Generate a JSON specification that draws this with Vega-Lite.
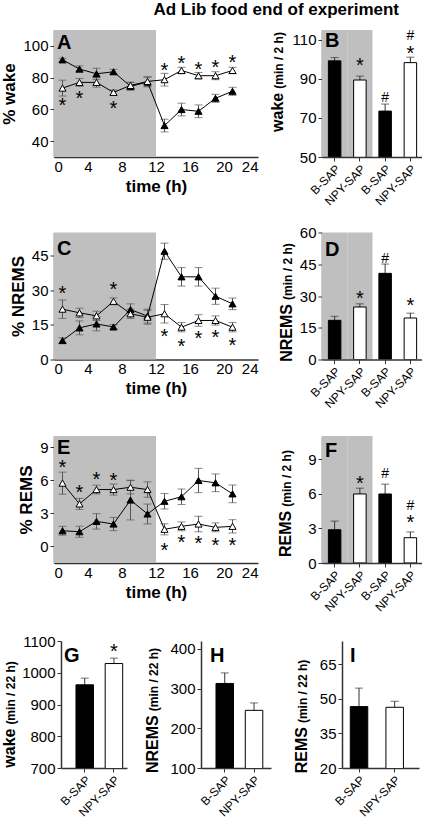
{
"$schema": "https://vega.github.io/schema/vega-lite/v6.json",
"padding": {"left": 0, "top": 0, "right": 0, "bottom": 0},
"title": {"text": "Ad Lib food end of experiment", "anchor": "end", "fontSize": 17, "fontWeight": "bold", "font": "Liberation Sans", "dx": -24, "offset": 10},
"config": {
  "font": "Liberation Sans",
  "view": {"stroke": null},
  "text": {"baseline": "alphabetic"},
  "axis": {"labelFont": "Liberation Sans", "labelFontSize": 15, "labelColor": "#000", "titleFont": "Liberation Sans", "titleFontSize": 17, "titleFontWeight": "bold", "titleColor": "#000", "domainColor": "#333", "domainWidth": 1.5, "tickColor": "#333", "tickSize": 4, "grid": false, "labelPadding": 2, "titlePadding": 4}
},
"datasets": {
  "wake": [
    {"t": 1, "group": "B-SAP", "mean": 91.2, "err": 1},
    {"t": 3, "group": "B-SAP", "mean": 85.4, "err": 2},
    {"t": 5, "group": "B-SAP", "mean": 82.4, "err": 3.5},
    {"t": 7, "group": "B-SAP", "mean": 83.7, "err": 1.5},
    {"t": 9, "group": "B-SAP", "mean": 74.5, "err": 2.5},
    {"t": 11, "group": "B-SAP", "mean": 77.2, "err": 3},
    {"t": 13, "group": "B-SAP", "mean": 49.8, "err": 4},
    {"t": 15, "group": "B-SAP", "mean": 59.9, "err": 4},
    {"t": 17, "group": "B-SAP", "mean": 58.8, "err": 4},
    {"t": 19, "group": "B-SAP", "mean": 67, "err": 2.5},
    {"t": 21, "group": "B-SAP", "mean": 71.4, "err": 2.5},
    {"t": 1, "group": "NPY-SAP", "mean": 73.4, "err": 5},
    {"t": 3, "group": "NPY-SAP", "mean": 77, "err": 2.5},
    {"t": 5, "group": "NPY-SAP", "mean": 77, "err": 3},
    {"t": 7, "group": "NPY-SAP", "mean": 70.7, "err": 1.5},
    {"t": 9, "group": "NPY-SAP", "mean": 75.1, "err": 2},
    {"t": 11, "group": "NPY-SAP", "mean": 77.6, "err": 3},
    {"t": 13, "group": "NPY-SAP", "mean": 78.7, "err": 4},
    {"t": 15, "group": "NPY-SAP", "mean": 84.5, "err": 2},
    {"t": 17, "group": "NPY-SAP", "mean": 81.2, "err": 2},
    {"t": 19, "group": "NPY-SAP", "mean": 81.2, "err": 2.5},
    {"t": 21, "group": "NPY-SAP", "mean": 84.5, "err": 2}
  ],
  "nrems": [
    {"t": 1, "group": "B-SAP", "mean": 8.2, "err": 1.2},
    {"t": 3, "group": "B-SAP", "mean": 13.7, "err": 3},
    {"t": 5, "group": "B-SAP", "mean": 15.4, "err": 3},
    {"t": 7, "group": "B-SAP", "mean": 14.1, "err": 1},
    {"t": 9, "group": "B-SAP", "mean": 21.6, "err": 2.5},
    {"t": 11, "group": "B-SAP", "mean": 18.8, "err": 3},
    {"t": 13, "group": "B-SAP", "mean": 46.9, "err": 3.5},
    {"t": 15, "group": "B-SAP", "mean": 35.8, "err": 4},
    {"t": 17, "group": "B-SAP", "mean": 35.8, "err": 4},
    {"t": 19, "group": "B-SAP", "mean": 27.4, "err": 3.5},
    {"t": 21, "group": "B-SAP", "mean": 24.1, "err": 2.5},
    {"t": 1, "group": "NPY-SAP", "mean": 21.8, "err": 4},
    {"t": 3, "group": "NPY-SAP", "mean": 20.2, "err": 2},
    {"t": 5, "group": "NPY-SAP", "mean": 18.9, "err": 2},
    {"t": 7, "group": "NPY-SAP", "mean": 25.2, "err": 1.5},
    {"t": 9, "group": "NPY-SAP", "mean": 19.8, "err": 2},
    {"t": 11, "group": "NPY-SAP", "mean": 18.3, "err": 3},
    {"t": 13, "group": "NPY-SAP", "mean": 19.8, "err": 4},
    {"t": 15, "group": "NPY-SAP", "mean": 14, "err": 2},
    {"t": 17, "group": "NPY-SAP", "mean": 16.9, "err": 2.5},
    {"t": 19, "group": "NPY-SAP", "mean": 16.9, "err": 2},
    {"t": 21, "group": "NPY-SAP", "mean": 14, "err": 2}
  ],
  "rems": [
    {"t": 1, "group": "B-SAP", "mean": 1.42, "err": 0.4},
    {"t": 3, "group": "B-SAP", "mean": 1.33, "err": 0.5},
    {"t": 5, "group": "B-SAP", "mean": 2.27, "err": 0.7},
    {"t": 7, "group": "B-SAP", "mean": 2.03, "err": 0.6},
    {"t": 9, "group": "B-SAP", "mean": 4.2, "err": 1.8},
    {"t": 11, "group": "B-SAP", "mean": 2.94, "err": 0.9},
    {"t": 13, "group": "B-SAP", "mean": 4.09, "err": 0.7},
    {"t": 15, "group": "B-SAP", "mean": 4.5, "err": 0.7},
    {"t": 17, "group": "B-SAP", "mean": 5.97, "err": 1.1},
    {"t": 19, "group": "B-SAP", "mean": 5.76, "err": 0.8},
    {"t": 21, "group": "B-SAP", "mean": 4.76, "err": 0.8},
    {"t": 1, "group": "NPY-SAP", "mean": 5.73, "err": 1},
    {"t": 3, "group": "NPY-SAP", "mean": 3.85, "err": 0.5},
    {"t": 5, "group": "NPY-SAP", "mean": 5.15, "err": 0.4},
    {"t": 7, "group": "NPY-SAP", "mean": 5.15, "err": 0.5},
    {"t": 9, "group": "NPY-SAP", "mean": 5.36, "err": 0.6},
    {"t": 11, "group": "NPY-SAP", "mean": 5.15, "err": 0.7},
    {"t": 13, "group": "NPY-SAP", "mean": 1.55, "err": 0.5},
    {"t": 15, "group": "NPY-SAP", "mean": 1.82, "err": 0.4},
    {"t": 17, "group": "NPY-SAP", "mean": 2.03, "err": 0.7},
    {"t": 19, "group": "NPY-SAP", "mean": 1.73, "err": 0.4},
    {"t": 21, "group": "NPY-SAP", "mean": 1.82, "err": 0.6}
  ],
  "wakeStars": [
    {"t": 1, "v": 64, "sym": "*"}, {"t": 3, "v": 68.2, "sym": "*"}, {"t": 7, "v": 62.4, "sym": "*"},
    {"t": 13, "v": 86, "sym": "*"}, {"t": 15, "v": 90.2, "sym": "*"}, {"t": 17, "v": 86.4, "sym": "*"},
    {"t": 19, "v": 88.1, "sym": "*"}, {"t": 21, "v": 90.8, "sym": "*"}
  ],
  "nremsStars": [
    {"t": 1, "v": 29.6, "sym": "*"}, {"t": 7, "v": 31.3, "sym": "*"}, {"t": 13, "v": 11.1, "sym": "*"},
    {"t": 15, "v": 6.8, "sym": "*"}, {"t": 17, "v": 10.1, "sym": "*"}, {"t": 19, "v": 10.5, "sym": "*"},
    {"t": 21, "v": 7.2, "sym": "*"}
  ],
  "remsStars": [
    {"t": 1, "v": 7.35, "sym": "*"}, {"t": 3, "v": 5.1, "sym": "*"}, {"t": 5, "v": 6.33, "sym": "*"},
    {"t": 7, "v": 6.2, "sym": "*"}, {"t": 13, "v": -0.1, "sym": "*"}, {"t": 15, "v": 0.58, "sym": "*"},
    {"t": 17, "v": 0.45, "sym": "*"}, {"t": 19, "v": 0.27, "sym": "*"}, {"t": 21, "v": 0.27, "sym": "*"}
  ],
  "wakeBar": [
    {"slot": "light B-SAP", "group": "B-SAP", "mean": 99.2, "err": 1.7},
    {"slot": "light NPY-SAP", "group": "NPY-SAP", "mean": 89.4, "err": 2},
    {"slot": "dark B-SAP", "group": "B-SAP", "mean": 73.5, "err": 3.6},
    {"slot": "dark NPY-SAP", "group": "NPY-SAP", "mean": 98.3, "err": 2.8}
  ],
  "wakeBarAnn": [
    {"slot": "light NPY-SAP", "v": 98, "sym": "*"},
    {"slot": "dark B-SAP", "v": 80.9, "sym": "#"},
    {"slot": "dark NPY-SAP", "v": 112.6, "sym": "#"},
    {"slot": "dark NPY-SAP", "v": 104, "sym": "*"}
  ],
  "nremsBar": [
    {"slot": "light B-SAP", "group": "B-SAP", "mean": 18.5, "err": 1.9},
    {"slot": "light NPY-SAP", "group": "NPY-SAP", "mean": 24.8, "err": 1.5},
    {"slot": "dark B-SAP", "group": "B-SAP", "mean": 40.7, "err": 4.4},
    {"slot": "dark NPY-SAP", "group": "NPY-SAP", "mean": 19.6, "err": 2.3}
  ],
  "nremsBarAnn": [
    {"slot": "light NPY-SAP", "v": 29.8, "sym": "*"},
    {"slot": "dark B-SAP", "v": 47.8, "sym": "#"},
    {"slot": "dark NPY-SAP", "v": 26.6, "sym": "*"}
  ],
  "remsBar": [
    {"slot": "light B-SAP", "group": "B-SAP", "mean": 2.88, "err": 0.75},
    {"slot": "light NPY-SAP", "group": "NPY-SAP", "mean": 5.98, "err": 0.5},
    {"slot": "dark B-SAP", "group": "B-SAP", "mean": 5.98, "err": 0.85},
    {"slot": "dark NPY-SAP", "group": "NPY-SAP", "mean": 2.19, "err": 0.5}
  ],
  "remsBarAnn": [
    {"slot": "light NPY-SAP", "v": 7.07, "sym": "*"},
    {"slot": "dark B-SAP", "v": 7.76, "sym": "#"},
    {"slot": "dark NPY-SAP", "v": 5.0, "sym": "#"},
    {"slot": "dark NPY-SAP", "v": 3.75, "sym": "*"}
  ],
  "wake22": [
    {"group": "B-SAP", "mean": 962, "err": 21},
    {"group": "NPY-SAP", "mean": 1029, "err": 17}
  ],
  "wake22Ann": [{"group": "NPY-SAP", "v": 1075, "sym": "*"}],
  "nrems22": [
    {"group": "B-SAP", "mean": 313, "err": 26.6},
    {"group": "NPY-SAP", "mean": 245.3, "err": 18.7}
  ],
  "rems22": [
    {"group": "B-SAP", "mean": 46.6, "err": 8},
    {"group": "NPY-SAP", "mean": 46.3, "err": 2.6}
  ]
},
"spacing": 17.5,
"vconcat": [
 {"spacing": 64, "bounds": "flush", "hconcat": [
  {"width": 204, "height": 127, "resolve": {"axis": {"x": "independent", "y": "independent"}}, "layer": [
    {"data": {"values": [{"start": 0, "end": 12}]}, "mark": {"type": "rect", "color": "#bfbfbf"},
     "encoding": {"x": {"field": "start", "type": "quantitative", "scale": {"domain": [0, 24], "nice": false}, "axis": {"values": [0, 4, 8, 12, 16, 20, 24], "title": "time (h)", "ticks": false, "labelPadding": 2}}, "x2": {"field": "end"}}},
    {"data": {"name": "wake"}, "mark": {"type": "errorbar", "ticks": {"size": 8}, "color": "#555"},
     "encoding": {"x": {"field": "t", "type": "quantitative", "scale": {"domain": [0, 24], "nice": false}, "axis": null},
       "y": {"field": "mean", "type": "quantitative", "scale": {"domain": [30, 110], "nice": false, "zero": false}, "axis": null},
       "yError": {"field": "err"}}},
    {"data": {"name": "wake"}, "mark": {"type": "line", "color": "black", "strokeWidth": 1},
     "encoding": {"x": {"field": "t", "type": "quantitative", "scale": {"domain": [0, 24], "nice": false}, "axis": null},
       "y": {"field": "mean", "type": "quantitative", "scale": {"domain": [30, 110], "nice": false, "zero": false}, "axis": {"values": [40, 60, 80, 100], "title": "% wake"}},
       "detail": {"field": "group", "type": "nominal"}}},
    {"data": {"name": "wake"}, "mark": {"type": "point", "shape": "triangle-up", "filled": true, "size": 50, "stroke": "black", "strokeWidth": 1, "opacity": 1},
     "encoding": {"x": {"field": "t", "type": "quantitative", "scale": {"domain": [0, 24], "nice": false}, "axis": null},
       "y": {"field": "mean", "type": "quantitative", "scale": {"domain": [30, 110], "nice": false, "zero": false}, "axis": null},
       "fill": {"field": "group", "type": "nominal", "scale": {"domain": ["B-SAP", "NPY-SAP"], "range": ["black", "white"]}, "legend": null}}},
    {"data": {"name": "wakeStars"}, "mark": {"type": "text", "fontSize": 20, "dy": 9, "baseline": "alphabetic"},
     "encoding": {"x": {"field": "t", "type": "quantitative", "scale": {"domain": [0, 24], "nice": false}, "axis": null},
       "y": {"field": "v", "type": "quantitative", "scale": {"domain": [30, 110], "nice": false, "zero": false}, "axis": null},
       "text": {"field": "sym"}}},
    {"data": {"values": [{"panel": "A"}]}, "mark": {"type": "text", "fontSize": 20, "fontWeight": "bold", "align": "left", "baseline": "alphabetic"},
     "encoding": {"x": {"datum": 0.35, "type": "quantitative", "scale": {"domain": [0, 24], "nice": false}, "axis": null},
       "y": {"datum": 98.1, "type": "quantitative", "scale": {"domain": [30, 110], "nice": false, "zero": false}, "axis": null},
       "text": {"field": "panel"}}}
  ]},
  {"width": 101, "height": 127, "resolve": {"axis": {"x": "independent", "y": "independent"}}, "layer": [
    {"data": {"values": [{"slot": "light B-SAP"}, {"slot": "light NPY-SAP"}]}, "mark": {"type": "rect", "color": "#bfbfbf"},
     "encoding": {"x": {"field": "slot", "type": "nominal", "scale": {"domain": ["light B-SAP", "light NPY-SAP", "dark B-SAP", "dark NPY-SAP"], "paddingInner": 0, "paddingOuter": 0}, "axis": {"title": null, "labelExpr": "split(datum.label, ' ')[1]", "labelAngle": -45, "labelFontSize": 12}}}},
    {"data": {"name": "wakeBar"}, "mark": {"type": "errorbar", "ticks": {"size": 8}, "color": "#333"},
     "encoding": {"x": {"field": "slot", "type": "nominal", "scale": {"domain": ["light B-SAP", "light NPY-SAP", "dark B-SAP", "dark NPY-SAP"], "paddingInner": 0, "paddingOuter": 0}, "axis": null},
       "y": {"field": "mean", "type": "quantitative", "scale": {"domain": [50, 115], "nice": false, "zero": false}, "axis": null},
       "yError": {"field": "err"}}},
    {"data": {"name": "wakeBar"}, "mark": {"type": "bar", "width": 12.5, "stroke": "black", "strokeWidth": 1, "clip": true},
     "encoding": {"x": {"field": "slot", "type": "nominal", "scale": {"domain": ["light B-SAP", "light NPY-SAP", "dark B-SAP", "dark NPY-SAP"], "paddingInner": 0, "paddingOuter": 0}, "axis": null},
       "y": {"field": "mean", "type": "quantitative", "scale": {"domain": [50, 115], "nice": false, "zero": false}, "axis": {"orient": "left", "values": [50, 70, 90, 110], "title": "wake", "titleFontSize": 16, "titleX": -37, "titleY": 81.85}},
       "fill": {"field": "group", "type": "nominal", "scale": {"domain": ["B-SAP", "NPY-SAP"], "range": ["black", "white"]}, "legend": null}}},
    {"data": {"name": "wakeBarAnn"}, "transform": [{"filter": "datum.sym == '*'"}], "mark": {"type": "text", "fontSize": 20, "dy": 9, "baseline": "alphabetic"},
     "encoding": {"x": {"field": "slot", "type": "nominal", "scale": {"domain": ["light B-SAP", "light NPY-SAP", "dark B-SAP", "dark NPY-SAP"], "paddingInner": 0, "paddingOuter": 0}, "axis": null},
       "y": {"field": "v", "type": "quantitative", "scale": {"domain": [50, 115], "nice": false, "zero": false}, "axis": null},
       "text": {"field": "sym"}}},
    {"data": {"name": "wakeBarAnn"}, "transform": [{"filter": "datum.sym == '#'"}], "mark": {"type": "text", "fontSize": 14, "dy": 5, "baseline": "alphabetic"},
     "encoding": {"x": {"field": "slot", "type": "nominal", "scale": {"domain": ["light B-SAP", "light NPY-SAP", "dark B-SAP", "dark NPY-SAP"], "paddingInner": 0, "paddingOuter": 0}, "axis": null},
       "y": {"field": "v", "type": "quantitative", "scale": {"domain": [50, 115], "nice": false, "zero": false}, "axis": null},
       "text": {"field": "sym"}}},
    {"data": {"values": [{"panel": "B"}]}, "mark": {"type": "text", "fontSize": 20, "fontWeight": "bold", "align": "left", "dx": 3, "baseline": "alphabetic"},
     "encoding": {"x": {"datum": "light B-SAP", "type": "nominal", "bandPosition": 0, "scale": {"domain": ["light B-SAP", "light NPY-SAP", "dark B-SAP", "dark NPY-SAP"], "paddingInner": 0, "paddingOuter": 0}, "axis": null},
       "y": {"datum": 106.3, "type": "quantitative", "scale": {"domain": [50, 115], "nice": false, "zero": false}, "axis": {"orient": "left", "title": "(min / 2 h)", "titleFontSize": 12, "titleX": -37, "titleY": 29.95, "labels": false, "ticks": false, "domain": false}},
       "text": {"field": "panel"}}}
  ]}
 ]},
 {"spacing": 25.5, "vconcat": [
  {"spacing": 64, "bounds": "flush", "hconcat": [
   {"width": 204, "height": 127, "resolve": {"axis": {"x": "independent", "y": "independent"}}, "layer": [
    {"data": {"values": [{"start": 0, "end": 12}]}, "mark": {"type": "rect", "color": "#bfbfbf"},
     "encoding": {"x": {"field": "start", "type": "quantitative", "scale": {"domain": [0, 24], "nice": false}, "axis": {"values": [0, 4, 8, 12, 16, 20, 24], "title": "time (h)", "ticks": false, "labelPadding": 2}}, "x2": {"field": "end"}}},
    {"data": {"name": "nrems"}, "mark": {"type": "errorbar", "ticks": {"size": 8}, "color": "#555"},
     "encoding": {"x": {"field": "t", "type": "quantitative", "scale": {"domain": [0, 24], "nice": false}, "axis": null},
       "y": {"field": "mean", "type": "quantitative", "scale": {"domain": [0, 55], "nice": false, "zero": false}, "axis": null},
       "yError": {"field": "err"}}},
    {"data": {"name": "nrems"}, "mark": {"type": "line", "color": "black", "strokeWidth": 1},
     "encoding": {"x": {"field": "t", "type": "quantitative", "scale": {"domain": [0, 24], "nice": false}, "axis": null},
       "y": {"field": "mean", "type": "quantitative", "scale": {"domain": [0, 55], "nice": false, "zero": false}, "axis": {"values": [0, 15, 30, 45], "title": "% NREMS"}},
       "detail": {"field": "group", "type": "nominal"}}},
    {"data": {"name": "nrems"}, "mark": {"type": "point", "shape": "triangle-up", "filled": true, "size": 50, "stroke": "black", "strokeWidth": 1, "opacity": 1},
     "encoding": {"x": {"field": "t", "type": "quantitative", "scale": {"domain": [0, 24], "nice": false}, "axis": null},
       "y": {"field": "mean", "type": "quantitative", "scale": {"domain": [0, 55], "nice": false, "zero": false}, "axis": null},
       "fill": {"field": "group", "type": "nominal", "scale": {"domain": ["B-SAP", "NPY-SAP"], "range": ["black", "white"]}, "legend": null}}},
    {"data": {"name": "nremsStars"}, "mark": {"type": "text", "fontSize": 20, "dy": 9, "baseline": "alphabetic"},
     "encoding": {"x": {"field": "t", "type": "quantitative", "scale": {"domain": [0, 24], "nice": false}, "axis": null},
       "y": {"field": "v", "type": "quantitative", "scale": {"domain": [0, 55], "nice": false, "zero": false}, "axis": null},
       "text": {"field": "sym"}}},
    {"data": {"values": [{"panel": "C"}]}, "mark": {"type": "text", "fontSize": 20, "fontWeight": "bold", "align": "left", "baseline": "alphabetic"},
     "encoding": {"x": {"datum": 0.35, "type": "quantitative", "scale": {"domain": [0, 24], "nice": false}, "axis": null},
       "y": {"datum": 45.3, "type": "quantitative", "scale": {"domain": [0, 55], "nice": false, "zero": false}, "axis": null},
       "text": {"field": "panel"}}}
   ]},
   {"width": 101, "height": 127, "resolve": {"axis": {"x": "independent", "y": "independent"}}, "layer": [
    {"data": {"values": [{"slot": "light B-SAP"}, {"slot": "light NPY-SAP"}]}, "mark": {"type": "rect", "color": "#bfbfbf"},
     "encoding": {"x": {"field": "slot", "type": "nominal", "scale": {"domain": ["light B-SAP", "light NPY-SAP", "dark B-SAP", "dark NPY-SAP"], "paddingInner": 0, "paddingOuter": 0}, "axis": {"title": null, "labelExpr": "split(datum.label, ' ')[1]", "labelAngle": -45, "labelFontSize": 12}}}},
    {"data": {"name": "nremsBar"}, "mark": {"type": "errorbar", "ticks": {"size": 8}, "color": "#333"},
     "encoding": {"x": {"field": "slot", "type": "nominal", "scale": {"domain": ["light B-SAP", "light NPY-SAP", "dark B-SAP", "dark NPY-SAP"], "paddingInner": 0, "paddingOuter": 0}, "axis": null},
       "y": {"field": "mean", "type": "quantitative", "scale": {"domain": [0, 60], "nice": false, "zero": false}, "axis": null},
       "yError": {"field": "err"}}},
    {"data": {"name": "nremsBar"}, "mark": {"type": "bar", "width": 12.5, "stroke": "black", "strokeWidth": 1, "clip": true},
     "encoding": {"x": {"field": "slot", "type": "nominal", "scale": {"domain": ["light B-SAP", "light NPY-SAP", "dark B-SAP", "dark NPY-SAP"], "paddingInner": 0, "paddingOuter": 0}, "axis": null},
       "y": {"field": "mean", "type": "quantitative", "scale": {"domain": [0, 60], "nice": false, "zero": false}, "axis": {"orient": "left", "values": [0, 15, 30, 45, 60], "title": "NREMS", "titleFontSize": 16, "titleX": -28, "titleY": 99.85}},
       "fill": {"field": "group", "type": "nominal", "scale": {"domain": ["B-SAP", "NPY-SAP"], "range": ["black", "white"]}, "legend": null}}},
    {"data": {"name": "nremsBarAnn"}, "transform": [{"filter": "datum.sym == '*'"}], "mark": {"type": "text", "fontSize": 20, "dy": 9, "baseline": "alphabetic"},
     "encoding": {"x": {"field": "slot", "type": "nominal", "scale": {"domain": ["light B-SAP", "light NPY-SAP", "dark B-SAP", "dark NPY-SAP"], "paddingInner": 0, "paddingOuter": 0}, "axis": null},
       "y": {"field": "v", "type": "quantitative", "scale": {"domain": [0, 60], "nice": false, "zero": false}, "axis": null},
       "text": {"field": "sym"}}},
    {"data": {"name": "nremsBarAnn"}, "transform": [{"filter": "datum.sym == '#'"}], "mark": {"type": "text", "fontSize": 14, "dy": 5, "baseline": "alphabetic"},
     "encoding": {"x": {"field": "slot", "type": "nominal", "scale": {"domain": ["light B-SAP", "light NPY-SAP", "dark B-SAP", "dark NPY-SAP"], "paddingInner": 0, "paddingOuter": 0}, "axis": null},
       "y": {"field": "v", "type": "quantitative", "scale": {"domain": [0, 60], "nice": false, "zero": false}, "axis": null},
       "text": {"field": "sym"}}},
    {"data": {"values": [{"panel": "D"}]}, "mark": {"type": "text", "fontSize": 20, "fontWeight": "bold", "align": "left", "dx": 3, "baseline": "alphabetic"},
     "encoding": {"x": {"datum": "light B-SAP", "type": "nominal", "bandPosition": 0, "scale": {"domain": ["light B-SAP", "light NPY-SAP", "dark B-SAP", "dark NPY-SAP"], "paddingInner": 0, "paddingOuter": 0}, "axis": null},
       "y": {"datum": 49, "type": "quantitative", "scale": {"domain": [0, 60], "nice": false, "zero": false}, "axis": {"orient": "left", "title": "(min / 2 h)", "titleFontSize": 12, "titleX": -28, "titleY": 38.6, "labels": false, "ticks": false, "domain": false}},
       "text": {"field": "panel"}}}
   ]}
  ]},
  {"spacing": 18, "vconcat": [
   {"spacing": 64, "bounds": "flush", "hconcat": [
    {"width": 204, "height": 127, "resolve": {"axis": {"x": "independent", "y": "independent"}}, "layer": [
     {"data": {"values": [{"start": 0, "end": 12}]}, "mark": {"type": "rect", "color": "#bfbfbf"},
      "encoding": {"x": {"field": "start", "type": "quantitative", "scale": {"domain": [0, 24], "nice": false}, "axis": {"values": [0, 4, 8, 12, 16, 20, 24], "title": "time (h)", "ticks": false, "labelPadding": 2}}, "x2": {"field": "end"}}},
     {"data": {"name": "rems"}, "mark": {"type": "errorbar", "ticks": {"size": 8}, "color": "#555"},
      "encoding": {"x": {"field": "t", "type": "quantitative", "scale": {"domain": [0, 24], "nice": false}, "axis": null},
        "y": {"field": "mean", "type": "quantitative", "scale": {"domain": [-1.5, 10], "nice": false, "zero": false}, "axis": null},
        "yError": {"field": "err"}}},
     {"data": {"name": "rems"}, "mark": {"type": "line", "color": "black", "strokeWidth": 1},
      "encoding": {"x": {"field": "t", "type": "quantitative", "scale": {"domain": [0, 24], "nice": false}, "axis": null},
        "y": {"field": "mean", "type": "quantitative", "scale": {"domain": [-1.5, 10], "nice": false, "zero": false}, "axis": {"values": [0, 3, 6, 9], "title": "% REMS"}},
        "detail": {"field": "group", "type": "nominal"}}},
     {"data": {"name": "rems"}, "mark": {"type": "point", "shape": "triangle-up", "filled": true, "size": 50, "stroke": "black", "strokeWidth": 1, "opacity": 1},
      "encoding": {"x": {"field": "t", "type": "quantitative", "scale": {"domain": [0, 24], "nice": false}, "axis": null},
        "y": {"field": "mean", "type": "quantitative", "scale": {"domain": [-1.5, 10], "nice": false, "zero": false}, "axis": null},
        "fill": {"field": "group", "type": "nominal", "scale": {"domain": ["B-SAP", "NPY-SAP"], "range": ["black", "white"]}, "legend": null}}},
     {"data": {"name": "remsStars"}, "mark": {"type": "text", "fontSize": 20, "dy": 9, "baseline": "alphabetic"},
      "encoding": {"x": {"field": "t", "type": "quantitative", "scale": {"domain": [0, 24], "nice": false}, "axis": null},
        "y": {"field": "v", "type": "quantitative", "scale": {"domain": [-1.5, 10], "nice": false, "zero": false}, "axis": null},
        "text": {"field": "sym"}}},
     {"data": {"values": [{"panel": "E"}]}, "mark": {"type": "text", "fontSize": 20, "fontWeight": "bold", "align": "left", "baseline": "alphabetic"},
      "encoding": {"x": {"datum": 0.35, "type": "quantitative", "scale": {"domain": [0, 24], "nice": false}, "axis": null},
        "y": {"datum": 8.35, "type": "quantitative", "scale": {"domain": [-1.5, 10], "nice": false, "zero": false}, "axis": null},
        "text": {"field": "panel"}}}
    ]},
    {"width": 101, "height": 127, "resolve": {"axis": {"x": "independent", "y": "independent"}}, "layer": [
     {"data": {"values": [{"slot": "light B-SAP"}, {"slot": "light NPY-SAP"}]}, "mark": {"type": "rect", "color": "#bfbfbf"},
      "encoding": {"x": {"field": "slot", "type": "nominal", "scale": {"domain": ["light B-SAP", "light NPY-SAP", "dark B-SAP", "dark NPY-SAP"], "paddingInner": 0, "paddingOuter": 0}, "axis": {"title": null, "labelExpr": "split(datum.label, ' ')[1]", "labelAngle": -45, "labelFontSize": 12}}}},
     {"data": {"name": "remsBar"}, "mark": {"type": "errorbar", "ticks": {"size": 8}, "color": "#333"},
      "encoding": {"x": {"field": "slot", "type": "nominal", "scale": {"domain": ["light B-SAP", "light NPY-SAP", "dark B-SAP", "dark NPY-SAP"], "paddingInner": 0, "paddingOuter": 0}, "axis": null},
        "y": {"field": "mean", "type": "quantitative", "scale": {"domain": [0, 11], "nice": false, "zero": false}, "axis": null},
        "yError": {"field": "err"}}},
     {"data": {"name": "remsBar"}, "mark": {"type": "bar", "width": 12.5, "stroke": "black", "strokeWidth": 1, "clip": true},
      "encoding": {"x": {"field": "slot", "type": "nominal", "scale": {"domain": ["light B-SAP", "light NPY-SAP", "dark B-SAP", "dark NPY-SAP"], "paddingInner": 0, "paddingOuter": 0}, "axis": null},
        "y": {"field": "mean", "type": "quantitative", "scale": {"domain": [0, 11], "nice": false, "zero": false}, "axis": {"orient": "left", "values": [0, 3, 6, 9], "title": "REMS", "titleFontSize": 16, "titleX": -29, "titleY": 97.35}},
        "fill": {"field": "group", "type": "nominal", "scale": {"domain": ["B-SAP", "NPY-SAP"], "range": ["black", "white"]}, "legend": null}}},
     {"data": {"name": "remsBarAnn"}, "transform": [{"filter": "datum.sym == '*'"}], "mark": {"type": "text", "fontSize": 20, "dy": 9, "baseline": "alphabetic"},
      "encoding": {"x": {"field": "slot", "type": "nominal", "scale": {"domain": ["light B-SAP", "light NPY-SAP", "dark B-SAP", "dark NPY-SAP"], "paddingInner": 0, "paddingOuter": 0}, "axis": null},
        "y": {"field": "v", "type": "quantitative", "scale": {"domain": [0, 11], "nice": false, "zero": false}, "axis": null},
        "text": {"field": "sym"}}},
     {"data": {"name": "remsBarAnn"}, "transform": [{"filter": "datum.sym == '#'"}], "mark": {"type": "text", "fontSize": 14, "dy": 5, "baseline": "alphabetic"},
      "encoding": {"x": {"field": "slot", "type": "nominal", "scale": {"domain": ["light B-SAP", "light NPY-SAP", "dark B-SAP", "dark NPY-SAP"], "paddingInner": 0, "paddingOuter": 0}, "axis": null},
        "y": {"field": "v", "type": "quantitative", "scale": {"domain": [0, 11], "nice": false, "zero": false}, "axis": null},
        "text": {"field": "sym"}}},
     {"data": {"values": [{"panel": "F"}]}, "mark": {"type": "text", "fontSize": 20, "fontWeight": "bold", "align": "left", "dx": 3, "baseline": "alphabetic"},
      "encoding": {"x": {"datum": "light B-SAP", "type": "nominal", "bandPosition": 0, "scale": {"domain": ["light B-SAP", "light NPY-SAP", "dark B-SAP", "dark NPY-SAP"], "paddingInner": 0, "paddingOuter": 0}, "axis": null},
        "y": {"datum": 9.2, "type": "quantitative", "scale": {"domain": [0, 11], "nice": false, "zero": false}, "axis": {"orient": "left", "title": "(min / 2 h)", "titleFontSize": 12, "titleX": -29, "titleY": 41.9, "labels": false, "ticks": false, "domain": false}},
        "text": {"field": "panel"}}}
    ]}
   ]},
   {"spacing": 6, "bounds": "flush", "hconcat": [
    {"width": 1, "height": 1, "data": {"values": [{"s": ""}]}, "mark": "text", "encoding": {"text": {"field": "s"}}},
    {"spacing": 74, "bounds": "flush", "hconcat": [
     {"width": 66, "height": 127, "resolve": {"axis": {"x": "independent", "y": "independent"}}, "layer": [
      {"data": {"name": "wake22"}, "mark": {"type": "errorbar", "ticks": {"size": 8}, "color": "#333"},
       "encoding": {"x": {"field": "group", "type": "nominal", "scale": {"domain": ["B-SAP", "NPY-SAP"], "paddingInner": 0.5, "paddingOuter": 0.38, "align": 0.74}, "axis": null},
         "y": {"field": "mean", "type": "quantitative", "scale": {"domain": [700, 1100], "nice": false, "zero": false}, "axis": null},
         "yError": {"field": "err"}}},
      {"data": {"name": "wake22"}, "mark": {"type": "bar", "width": 17.5, "stroke": "black", "strokeWidth": 1, "clip": true},
       "encoding": {"x": {"field": "group", "type": "nominal", "scale": {"domain": ["B-SAP", "NPY-SAP"], "paddingInner": 0.5, "paddingOuter": 0.38, "align": 0.74}, "axis": {"title": null, "labelAngle": -45, "labelFontSize": 12}},
         "y": {"field": "mean", "type": "quantitative", "scale": {"domain": [700, 1100], "nice": false, "zero": false}, "axis": {"orient": "left", "values": [700, 800, 900, 1000, 1100], "format": "d", "title": "wake", "titleFontSize": 16, "titleX": -44, "titleY": 106.65}},
         "fill": {"field": "group", "type": "nominal", "scale": {"domain": ["B-SAP", "NPY-SAP"], "range": ["black", "white"]}, "legend": null}}},
      {"data": {"name": "wake22Ann"}, "mark": {"type": "text", "fontSize": 20, "dy": 9, "baseline": "alphabetic"},
       "encoding": {"x": {"field": "group", "type": "nominal", "scale": {"domain": ["B-SAP", "NPY-SAP"], "paddingInner": 0.5, "paddingOuter": 0.38, "align": 0.74}, "axis": null},
         "y": {"field": "v", "type": "quantitative", "scale": {"domain": [700, 1100], "nice": false, "zero": false}, "axis": null},
         "text": {"field": "sym"}}},
      {"data": {"values": [{"panel": "G"}]}, "mark": {"type": "text", "fontSize": 20, "fontWeight": "bold", "align": "left", "dx": -13.5, "baseline": "alphabetic"},
       "encoding": {"x": {"datum": "B-SAP", "type": "nominal", "bandPosition": 0, "scale": {"domain": ["B-SAP", "NPY-SAP"], "paddingInner": 0.5, "paddingOuter": 0.38, "align": 0.74}, "axis": null},
         "y": {"datum": 1033.6, "type": "quantitative", "scale": {"domain": [700, 1100], "nice": false, "zero": false}, "axis": {"orient": "left", "title": "(min / 22 h)", "titleFontSize": 12, "titleX": -44, "titleY": 51.45, "labels": false, "ticks": false, "domain": false}},
         "text": {"field": "panel"}}}
     ]},
     {"spacing": 71, "bounds": "flush", "hconcat": [
      {"width": 70, "height": 127, "resolve": {"axis": {"x": "independent", "y": "independent"}}, "layer": [
       {"data": {"name": "nrems22"}, "mark": {"type": "errorbar", "ticks": {"size": 8}, "color": "#333"},
        "encoding": {"x": {"field": "group", "type": "nominal", "scale": {"domain": ["B-SAP", "NPY-SAP"], "paddingInner": 0.5, "paddingOuter": 0.445, "align": 0.63}, "axis": null},
          "y": {"field": "mean", "type": "quantitative", "scale": {"domain": [100, 420], "nice": false, "zero": false}, "axis": null},
          "yError": {"field": "err"}}},
       {"data": {"name": "nrems22"}, "mark": {"type": "bar", "width": 17.5, "stroke": "black", "strokeWidth": 1, "clip": true},
        "encoding": {"x": {"field": "group", "type": "nominal", "scale": {"domain": ["B-SAP", "NPY-SAP"], "paddingInner": 0.5, "paddingOuter": 0.445, "align": 0.63}, "axis": {"title": null, "labelAngle": -45, "labelFontSize": 12}},
          "y": {"field": "mean", "type": "quantitative", "scale": {"domain": [100, 420], "nice": false, "zero": false}, "axis": {"orient": "left", "values": [100, 200, 300, 400], "title": "NREMS", "titleFontSize": 16, "titleX": -41, "titleY": 102.65}},
          "fill": {"field": "group", "type": "nominal", "scale": {"domain": ["B-SAP", "NPY-SAP"], "range": ["black", "white"]}, "legend": null}}},
       {"data": {"values": [{"panel": "H"}]}, "mark": {"type": "text", "fontSize": 20, "fontWeight": "bold", "align": "left", "dx": -7.4, "baseline": "alphabetic"},
        "encoding": {"x": {"datum": "B-SAP", "type": "nominal", "bandPosition": 0, "scale": {"domain": ["B-SAP", "NPY-SAP"], "paddingInner": 0.5, "paddingOuter": 0.445, "align": 0.63}, "axis": null},
          "y": {"datum": 367, "type": "quantitative", "scale": {"domain": [100, 420], "nice": false, "zero": false}, "axis": {"orient": "left", "title": "(min / 22 h)", "titleFontSize": 12, "titleX": -41, "titleY": 38.1, "labels": false, "ticks": false, "domain": false}},
          "text": {"field": "panel"}}}
      ]},
      {"width": 77, "height": 127, "resolve": {"axis": {"x": "independent", "y": "independent"}}, "layer": [
       {"data": {"name": "rems22"}, "mark": {"type": "errorbar", "ticks": {"size": 8}, "color": "#333"},
        "encoding": {"x": {"field": "group", "type": "nominal", "scale": {"domain": ["B-SAP", "NPY-SAP"], "paddingInner": 0.5, "paddingOuter": 0.33, "align": 0.345}, "axis": null},
          "y": {"field": "mean", "type": "quantitative", "scale": {"domain": [20, 75], "nice": false, "zero": false}, "axis": null},
          "yError": {"field": "err"}}},
       {"data": {"name": "rems22"}, "mark": {"type": "bar", "width": 17.5, "stroke": "black", "strokeWidth": 1, "clip": true},
        "encoding": {"x": {"field": "group", "type": "nominal", "scale": {"domain": ["B-SAP", "NPY-SAP"], "paddingInner": 0.5, "paddingOuter": 0.33, "align": 0.345}, "axis": {"title": null, "labelAngle": -45, "labelFontSize": 12}},
          "y": {"field": "mean", "type": "quantitative", "scale": {"domain": [20, 75], "nice": false, "zero": false}, "axis": {"orient": "left", "values": [20, 35, 50, 65], "title": "REMS", "titleFontSize": 16, "titleX": -33, "titleY": 108.65}},
          "fill": {"field": "group", "type": "nominal", "scale": {"domain": ["B-SAP", "NPY-SAP"], "range": ["black", "white"]}, "legend": null}}},
       {"data": {"values": [{"panel": "I"}]}, "mark": {"type": "text", "fontSize": 20, "fontWeight": "bold", "align": "left", "dx": 0, "baseline": "alphabetic"},
        "encoding": {"x": {"datum": "B-SAP", "type": "nominal", "bandPosition": 0, "scale": {"domain": ["B-SAP", "NPY-SAP"], "paddingInner": 0.5, "paddingOuter": 0.33, "align": 0.345}, "axis": null},
          "y": {"datum": 65.7, "type": "quantitative", "scale": {"domain": [20, 75], "nice": false, "zero": false}, "axis": {"orient": "left", "title": "(min / 22 h)", "titleFontSize": 12, "titleX": -33, "titleY": 49.9, "labels": false, "ticks": false, "domain": false}},
          "text": {"field": "panel"}}}
      ]}
     ]}
    ]}
   ]}
  ]}
 ]}
]
}
